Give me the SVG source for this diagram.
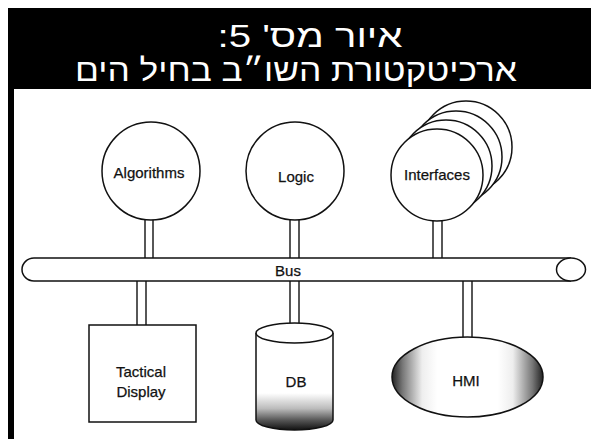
<svg xmlns="http://www.w3.org/2000/svg" width="591" height="439" viewBox="0 0 591 439">
  <style>
    .ln { fill: none; stroke: #111; stroke-width: 1.4; }
    .shape { fill: #fff; stroke: #111; stroke-width: 1.5; }
    .lbl { font-family: "Liberation Sans", Arial, sans-serif; font-size: 15px; fill: #111; stroke: #111; stroke-width: 0.25; text-anchor: middle; }
    .title { font-family: "Liberation Sans", "DejaVu Sans", sans-serif; font-size: 31px; fill: #fff; text-anchor: middle; }
  </style>
  <defs>
    <linearGradient id="dbShade" x1="0" y1="0" x2="0" y2="1">
      <stop offset="0" stop-color="#fff"/>
      <stop offset="0.62" stop-color="#fff"/>
      <stop offset="0.78" stop-color="#bbb"/>
      <stop offset="0.9" stop-color="#555"/>
      <stop offset="1" stop-color="#111"/>
    </linearGradient>
    <linearGradient id="hmiShade" x1="0" y1="0" x2="1" y2="0">
      <stop offset="0" stop-color="#222"/>
      <stop offset="0.07" stop-color="#777"/>
      <stop offset="0.2" stop-color="#eee"/>
      <stop offset="0.3" stop-color="#fff"/>
      <stop offset="0.7" stop-color="#fff"/>
      <stop offset="0.8" stop-color="#eee"/>
      <stop offset="0.93" stop-color="#777"/>
      <stop offset="1" stop-color="#222"/>
    </linearGradient>
  </defs>

  <rect width="591" height="439" fill="#fff"/>

  <!-- title band and left frame -->
  <g id="header">
    <rect x="8" y="8" width="583" height="81" fill="#000"/>
    <rect x="8" y="88" width="6" height="351" fill="#000"/>
    <text class="title" x="310" y="47" direction="rtl" textLength="185" lengthAdjust="spacingAndGlyphs">איור מס' 5:</text>
    <text class="title" x="296" y="81" direction="rtl" textLength="442" lengthAdjust="spacingAndGlyphs">ארכיטקטורת השו״ב בחיל הים</text>
  </g>

  <!-- double-line links between nodes and the bus -->
  <g id="connectors">
    <path class="ln" d="M145,215 V258 M153,215 V258"/>
    <path class="ln" d="M290,215 V258 M299,215 V258"/>
    <path class="ln" d="M433,215 V258 M442,215 V258"/>
    <path class="ln" d="M137,281 V325 M146,281 V325"/>
    <path class="ln" d="M290,281 V326 M299,281 V326"/>
    <path class="ln" d="M463,281 V338 M472,281 V338"/>
  </g>

  <g id="bus">
    <path class="shape" d="M571,258 H34 A12,11.5 0 0 0 34,281 H571"/>
    <ellipse class="shape" cx="571" cy="269.5" rx="14.5" ry="11.5"/>
    <text class="lbl" x="288" y="276">Bus</text>
  </g>

  <g id="algorithms">
    <circle class="shape" cx="151" cy="171" r="49"/>
    <text class="lbl" x="149" y="178">Algorithms</text>
  </g>

  <g id="logic">
    <circle class="shape" cx="295" cy="171" r="49"/>
    <text class="lbl" x="296" y="182">Logic</text>
  </g>

  <g id="interfaces">
    <circle class="shape" cx="466" cy="147" r="46"/>
    <circle class="shape" cx="456" cy="157" r="46"/>
    <circle class="shape" cx="446" cy="166" r="46"/>
    <circle class="shape" cx="437" cy="175" r="46"/>
    <text class="lbl" x="437" y="180">Interfaces</text>
  </g>

  <g id="tactical-display">
    <rect class="shape" x="89" y="325" width="107" height="97"/>
    <text class="lbl" x="141" y="377">Tactical</text>
    <text class="lbl" x="141" y="397">Display</text>
  </g>

  <g id="db">
    <path class="shape" style="fill:url(#dbShade)" d="M256,333 V420 A38.5,10 0 0 0 333,420 V333"/>
    <ellipse class="shape" cx="294.5" cy="333" rx="38.5" ry="10"/>
    <text class="lbl" x="296" y="387">DB</text>
  </g>

  <g id="hmi">
    <ellipse class="shape" style="fill:url(#hmiShade)" cx="467.5" cy="377" rx="75.5" ry="40"/>
    <text class="lbl" x="466" y="386">HMI</text>
  </g>
</svg>
